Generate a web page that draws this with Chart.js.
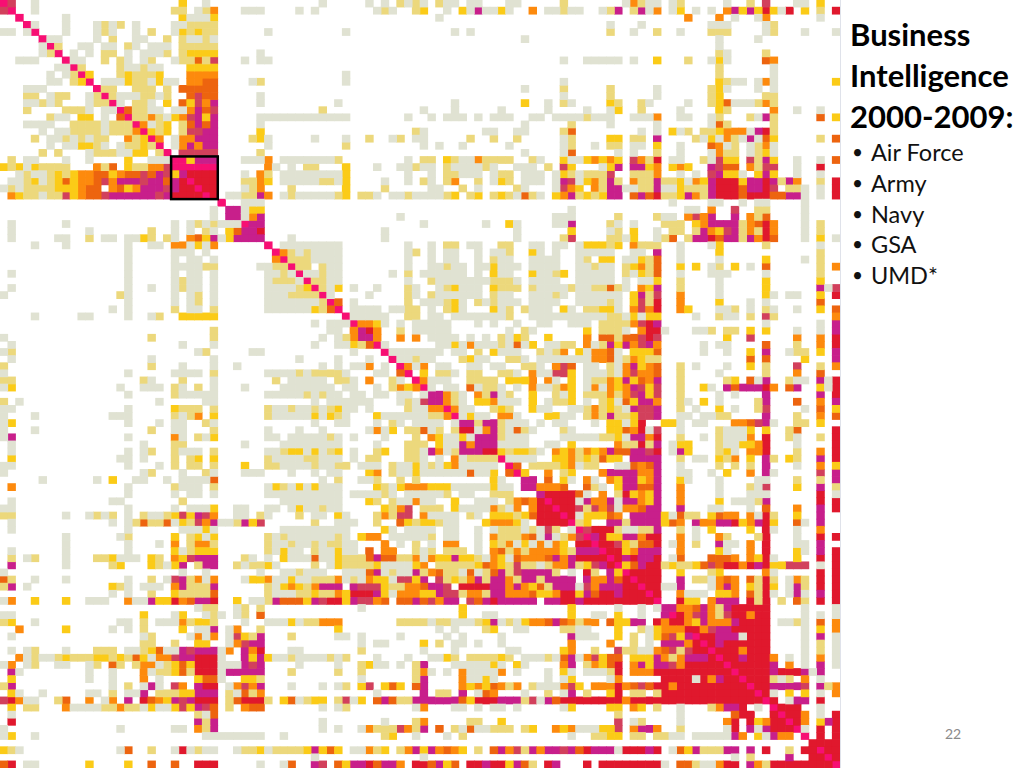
<!DOCTYPE html>
<html>
<head>
<meta charset="utf-8">
<title>Business Intelligence 2000-2009</title>
<script src="https://cdn.jsdelivr.net/npm/chart.js@4"></script>
<style>
  html, body { margin: 0; padding: 0; background: #fff; overflow: hidden; }
  #page { position: relative; width: 1024px; height: 768px; }
  #myChart { position: absolute; left: 0; top: 0; }
  #rule { position: absolute; left: 840px; top: 0; width: 1px; height: 768px; background: #dfe2ea; }
  #title { position: absolute; left: 850px; top: 14px; font: bold 31px/41px Lato, sans-serif; color: #000; white-space: nowrap; }
  #list { position: absolute; left: 850px; top: 137px; margin: 0; padding: 0; list-style: none; font: 23.5px/30.8px Lato, sans-serif; color: #111; }
  #list li { padding-left: 21px; position: relative; white-space: nowrap; }
  #list li::before { content: "\2022"; position: absolute; left: 2px; font-size: 19px; }
  #page-no { position: absolute; left: 945px; top: 725px; font: 14px Lato, sans-serif; color: #8a8a8a; }
</style>
</head>
<body>
<div id="page">
  <canvas id="myChart" width="840" height="768"></canvas>
  <div id="rule"></div>
  <div id="title">Business<br>Intelligence<br>2000-2009:</div>
  <ul id="list"><li>Air Force</li><li>Army</li><li>Navy</li><li>GSA</li><li>UMD*</li></ul>
  <div id="page-no">22</div>
</div>
<script>
// every row is "col" or "from-to" + level letter, col counted from the start of the block
const topLeft = [
"0h 1r 4g 23y 26g",
"0r 1h 4g 22-23p 25g 26p 27o 31-33g",
"2h 8g 23y 24-26g 27y",
"3h 4g 8g 12g 13p 14g 15p 17g 22-23g 24-27p",
"0-1g 3g 4h 8g 12g 13p 14g 17g 19p 22g 23y 24p 25y 26-27p 34g",
"5h 6-7g 12g 14p 17-18g 21p 23p 24-25g 26p 27g",
"5g 6h 7p 10-11g 13-14g 16p 17g 19-21g 23-27p",
"5g 6p 7h 9g 11g 13-14p 16g 18-20g 21p 23p 24-27y 33g",
"2-4g 8h 9-10g 13p 15p 16g 18g 19p 22g 23-24p 25d 26p 27r 31g 33-34g",
"7-8g 9h 10p 15p 16-17g 18p 19-20g 24-27y",
"6g 8g 9p 10h 11y 15p 16y 17-19p 20y 24-27o",
"6-7g 9p 10y 11h 13-15g 16y 17-18p 19g 20y 21-22g 24-25o 26-27d 32g 33p",
"3-5g 12h 13-14p 17-19p 21p 23d 24-27d",
"3-4p 6g 7-8p 11g 12p 13h 14p 15-17g 18-19p 20g 21p 24d 25r 26-27d 33g",
"3-4g 5p 6g 7p 11g 12-13p 14h 15g 17-18p 19g 21y 23d 24y 25r 26o 27m 33g",
"3p 8-10p 11g 13-14g 15h 16d 17-18p 19-20g 22-23g 24o 25m 26d 27r",
"6p 7-8g 10-11y 13g 15d 16h 17-18p 19o 20p 21g 22y 23o 24r 25m 26y 27m 33-35g",
"3-6g 9-12p 13g 14-16p 17h 18o 19g 20p 21y 23p 24d 25m 26d 27m 33g",
"5g 7-8g 9-12p 13g 14-16p 17o 18h 19y 20p 21y 23p 24-25r 26-27m 33y",
"4p 6-7g 8p 9g 10p 11g 12-13p 16o 17p 18y 19h 20o 22g 23-24o 25-27m 32p 33y 34g",
"6g 8-9g 10-11y 12p 13g 15g 16-17p 18y 19p 20h 22g 23o 24m 25o 26-27m 34g",
"5p 7p 11g 12-14p 15-16g 17-18y 20p 21h 23-27r 33p",
"1p 3-4g 8g 11g 16y 19-21g 22-23h 24y 25-27m 31-33g 34o",
"0y 1p 2y 3g 4y 5-8p 12o 13p 14d 16y 17-18p 19-20o 21r 22-27h 34o 35g",
"2g 3p 4-5g 6p 7y 8p 9y 10-11o 12-13d 14y 15o 16-17d 18r 19d 20m 21r 22y 23m 24-27c 31g 33o 34p",
"1-2g 3p 4y 5g 6p 7y 8d 9y 10-11o 12d 13r 14o 15-17m 18r 19-20m 21d 22m 23c 24h 25-27c 31-32p 33o 34y",
"0g 1p 2g 3-6p 7-9y 10o 11-12d 14o 15d 16y 17o 18-20m 21r 22m 23-24c 25h 26-27c 31g 32p 33o",
"1o 2y 3-4p 5g 6-7p 8r 9y 10o 11-12d 13r 14m 15-19m 20r 21m 22-25c 26h 27c 29-30g 31-32p 33m 34o",
"28h 31-33g",
"27g 29-30m 31g 32-33y",
"27g 29-30m 31g 32o 33m",
"1g 8g 22g 24g 25p 26g 27p 28-30g 31h 32-33m",
"1g 11g 19p 22g 24g 26p 27g 29y 30d 31-32m 33c",
"1g 7-8g 11p 13-14g 16-17g 18y 19p 21p 22g 24o 25d 26y 27m 28g 29y 30-33m",
"4g 8g 16g 19-20g 22-23o 24g 25y 26g 27o 34h",
"16g 22-24g 26g 35h"
];
const topMid = [
"5g 11g 13g 15p 16g 17p 18g 20p 21-22g 24-25g 29-30g",
"2g 4g 12g 13p 14g 17p 18y 21g 23y 24g 25m 26-27g 28y 29g 32o 34-35g",
"20g",
"",
"8g 22g 24g",
"31g",
"","","","",
"8g",
"8g",
"31g",
"",
"7g 22g 31y 34g",
"5p 18g 22g 28g 34g",
"0-8g 16g 19g 21-23g 25g 27-29g 32-33g 35g",
"31g",
"17p 18g 26-27g 30-31g",
"4g 8g 11p 14g 15p 17-18g 24p 27p 30p",
"8p 18g 20g 23g 29g",
"31g",
"0-6g 7p 16g 18-19p 21y 22p 23-24g 25o 26-29p 32p 33g",
"1g 3-4p 8y 12g 15-16g 17p 18-19g 21p 22-25g 26p 27g 30-32g 34p",
"0-7g 8y 16g 19g 21-22p 23-25g 27g 28-29p 31-33g 35g",
"0-4g 5-6p 7g 8y 13g 16g 18p 19g 21p 22o 25p 27g 28y 29p 31-33g 35g",
"1p 8y 13p 19-20g 23p 25g 30p 31g 35g",
"0g 1p 2-6g 7p 8y 10-11p 12g 14-15g 16p 17-20g 21p 22y 24p 25y 27p 28y 29p 30g 31d 32p 33g 35y",
"",
"",
"15g 35g",
"18g 26g 29y 30g 35g",
"13g 30g",
"1g 13g 30g",
"0-7g 16g 19g 21-22p 24-25g 28-29p 32-33g 35g",
"0o 1p 2g 3p 4-7g 16g 17p 19g 21-22g 25g 27-28g 29p 32y 33g 35g"
];
const topRight = [
"0p 8g 9o 10p 11-12g 14g 15p 21g 24p 26r 30-31g 33y",
"0p 1-2g 5g 6p 7m 9p 10m 11g 12o 14g 15y 17g 19g 21o 22m 23y 24m 25y 26c 27y 28g 29c 31y 33p 35c",
"16o 20o 22g 25g 26o 33g",
"6g 10g 19-21g 26g 27p",
"6p 9g 12p 15g 19-21p 26g 27p 31g 35g",
"20g 25g",
"20g",
"20p 21g 26p",
"0g 3-7g 9g 12y 16p 19g 20y 21g 26d 27o",
"20p 27g",
"20p 27g",
"0g 20y 21p 22-23g 25g 26o 27g 35y",
"0p 6p 12g 19p 20y 21g 25g 27g",
"0g 6p 12g 19p 20y 26-27p",
"0p 1g 6y 7p 10p 11g 16g 19p 20y 21d 22-24g 25p 26o 27p",
"3g 6g 7y 10p 15g 20y 21p 27o 30g 33g",
"0-2g 3p 4-6g 9-11g 12o 15-16g 19g 20p 24p 25g 26m 27p 33d 35y",
"1p 6g 12g 19g 20d 21p 27p",
"0p 1d 10g 12g 14y 15g 16p 18-19p 20y 21-23o 24g 25m 26c 27p",
"0g 1p 6-7y 9-10p 12m 17p 18g 19y 20g 21o 22p 23g 24m 25g 26d 27y 33p 35d",
"0g 1p 4g 6-7p 9-10g 12y 15g 19d 20o 21g 22p 24g 25p 26o 27g",
"0g 1d 7g 9g 12p 15g 19g 20o 21-22p 24g 25p 26y 27g",
"0y 1-2g 3y 4o 5y 6o 7y 9r 10o 11p 12c 14-15g 18p 19g 20r 21-22y 24r 25p 26m 27y 30g 33g 35d",
"0r 1y 5g 6y 7m 9-10m 11y 12o 14y 15o 16y 19m 20r 21-22d 24o 25p 26r 27r 30g 33c",
"0y 1p 2g 3-5p 6r 9-11p 12o 15g 17g 19r 20m 21-22y 23g 25y 26m 27y 30g 33g",
"0m 1r 2g 3y 4o 5p 6m 7p 9o 10-11p 12m 13-14p 15y 16g 17o 18y 19m 20-22c 23y 24-25m 26c 27m 28p 29m 30o 33p 35c",
"0r 1o 2y 4o 5p 6-7m 8-9g 10-11p 12m 13-14g 15y 16-18p 19m 20-22c 23d 24-25m 26c 27r 29-30p 31g 33g 35c",
"0o 1m 2p 3y 4p 5y 6-7m 9d 10m 11d 12c 13-14p 15y 16m 17o 18p 19m 20-22c 23d 24-26c 27-28d 29-30m 31g 33g 35c",
"14g 19-20g 23g 25-26g 31g",
"1g 16-17g 19o 22r 25-26p 31g",
"0-1g 7p 12p 13-14g 16o 17r 18o 19m 22m 24o 25p 26d 31g",
"0g 1m 6p 7g 9g 13-15p 17y 18o 19-22m 23p 24o 25d 26c 27o 31g 33p",
"1y 6g 7p 9y 12g 14-15p 17p 18m 19o 20y 21r 22m 23p 24o 25p 26c 27o 31g 33p",
"0p 1r 6-7p 8g 9y 12g 13p 14d 16p 17-18m 19c 20d 21-22m 23p 24m 25o 26c 27d 31g 33y 35g",
"0g 2g 3-5y 6p 7y 9o 10-12p 15g 19g 20y 26p 33g",
"2-6g 9-10g 12m 15g 20y 33p"
];
const midLeft = [
"16g 22g 24-25g 27g 35o",
"16g 22-25g 26-27p 33-34g 35p",
"1g 16g 22g 24-25g 27g 34-35g",
"16g 22g 23p 24-25g 27g 34g 35p",
"1g 16g 19g 22g 23p 24-25g 27g 34-35g",
"0g 15p 16g 22g 24g 25p 27g 34-35g",
"16g 22g 24g 25p 27g 34-35g",
"14g 16g 22p 24-25g 27p 34-35g",
"4g 10-11g 16g 19g 20p 23-27y",
"",
"27p",
"0g 19p 27p",
"1g 23g 27g",
"0g 1p 25g 26p 32-33g",
"1g 19g 27g",
"0p 19p 23g 27g 30g",
"0g 16g 22-25g 27p 34-35g",
"0-1p 18p 19g 23p 27g 35p",
"0g 1y 15g 18-20g 22p 23g 25p 27g 31g",
"16g 22p 23-26g 27g 34-35g",
"0p 2g 20g 26-27g",
"0-1g 16g 22y 23-25p 27p 34p 35g",
"0g 4g 14-15g 16g 22p 23g 24p 25o 27y 34p 35g",
"0g 1y 16g 20g 22-23g 26p 27g",
"0g 4g 19p 22-23g 27p 34g",
"0g 1m 16g 22o 23g 25p 26g 27y 34-35g",
"1g 18g 22-23p 31g",
"1g 16g 18g 19p 22p 23-25g 27p 34-35g",
"1y 15-16g 18g 22p 24p 25y 27y 34p 35g",
"0-1g 16g 20g 22p 24-25p 27p 31y 34-35p",
"0g 18g 19p 23g 26p 27g 31-33g",
"5g 12g 14y 17-18g 21g 23-26g 27d",
"1o 16g 22p 23-25g 27p 34g 35y",
"16g 22g 24-25g 27g 34-35g",
"1g 14-15g 23p",
"0-1g 16g 22g 24-26g 27y 30-31g 34-35g"
];
const midMid = [
"0h 1-3p 4-7g 16g 19g 21-22g 25g 27p 28-29g 32-35g",
"0p 1h 2-3p 5p 6-7g 16g 19-20g 21p 22-23g 25-26g 27y 28-30g 32-35g",
"0p 1g 2h 3-4g 5p 6-7g 14g 16p 18-20g 21-23g 25g 27y 28-29g 32y 33-34g 35p",
"0-1p 2g 3h 4-5p 6-7g 16g 19p 20-23g 24-26g 27p 28-29p 30g 32-33g 34-35g",
"0-1g 2p 3y 4h 5p 6g 7y 9g 12g 16p 17g 20g 21p 22y 23-25g 27y 28-30p 32p 33-35g",
"0g 1-4p 5h 6g 11g 16p 17g 19p 20-23g 24-25g 27p 28-29g 32-34g 35p",
"0-4g 5p 6h 7d 9g 16p 18g 19-20g 21p 22y 23g 25p 26g 27p 28-30g 32-35g",
"0-3g 4y 5p 6d 7h 9-12g 14-15g 16-17p 19g 21p 22y 23g 27y 28g 29p 31p 32-34g",
"8h 9-13g 16-17p 19-20g 22-23g 24-26g 27-28g 29p 32-35g",
"4g 6-7g 8g 9h 10-11o 12y 13g 15g 17-19g 20-21g 25g 27g 30g 33-34g",
"6-7g 9o 10m 11c 12o 15p 17-18g 19-21g 29g 31p 32g",
"5g 7g 8p 9o 10-11m 12o 15o 17o 19-21g 22g 24g 26g 28p 29g 30y 31p 34y",
"4g 7-8g 9y 10p 11d 12h 13g 20-21g 22y 23g 24o 25-27g 28p 29g 30d 31g 32y 34-35g",
"9g 13h 14g 15-18g 19-20g 22-23g 25p 27y 28-30g 33p 34g 35p",
"2g 7g 11g 14h 15-16g 17p 18-19g 23p 24y 25-26g 29-30p 31g 33-35g",
"5g 7g 9-10g 11o 13g 15h 16o 17g 18o 20-21g 24-25g 27-28g 31-32p 33g 35o",
"0-1g 2p 3g 4-7p 8g 12-13g 15d 16h 18y 20-21p 22g 24-25p 28-29p 30g 32o 33-34g 35r",
"1-3g 4-5g 7-8p 9g 11o 14p 15g 17h 18o 19-21g 24-27p 29-31y 32o 34o 35g",
"0-3g 4g 5-6g 8-9g 12g 14p 15o 16y 17o 18h 19g 21-22g 24d 25g 26-27p 28g 30g 32o 33-34g 35p",
"0-2g 3p 4g 5p 6-7g 9-10g 12-13g 15-16g 18g 19-20m 21o 22p 23g 25o 26p 27m 28g 29p 32y 35p",
"4g 6-7g 8-11g 15g 16p 17g 18r 19-20m 21o 22p 23g 25-26y 27o 28-30g 32y 34g 35p",
"0g 1p 2-3g 4p 5g 6p 7y 8-9g 11g 16p 17-18g 19-20o 21h 22o 23-24g 27p 28y 29p 32y 33-34g",
"0-3g 4y 5g 6y 7p 8g 12y 13-18g 19-20p 21o 22h 23g 24y 25-26g 28-29o 30g 34-35y",
"4g 7-8g 12g 14p 15g 17-20g 22g 23-24m 25p 26-27m 28p 29-31g 33g 35g",
"2g 5g 11g 12o 13g 14y 16-17p 18d 19g 20p 22p 23-24c 25g 26o 27m 28p 29g 30d 31p 32g",
"1-5g 6p 7g 9g 13g 17p 19o 20y 21-22g 23y 24g 25-27m 28p 29-31g",
"0-7g 12g 16-18p 20y 21-22g 23m 24o 25-27m 28g 29-31g 34-35g",
"0p 1-2y 3g 4y 5g 6p 7y 9g 12p 13y 16-17p 18g 19m 20o 21g 22p 23-25m 26-27c 28y 29p 30-31y 32p 33g 35o",
"0-2g 3-4p 5-7g 9g 11-12p 16-17p 18g 20g 22o 23g 24-26p 27p 28h 29-32g 35y",
"0-3g 4p 5-6g 7-8p 10-12g 14p 15-16g 17y 18g 19p 20g 21y 22o 23-27g 29h 30d 32-35p",
"1g 4g 6-7g 11y 12o 14p 15-16g 17y 18-23g 24d 25-26g 27y 29d 30h 31y 34o",
"5g 7p 10-11g 12p 15p 17p 27y 28g 31-32m 34d",
"0p 1g 2y 3g 4y 5-7g 12y 13p 14g 15y 16-18o 19-21y 22-26g 27y 28-29g 31-32m 33-35o",
"0-7g 9-12g 13p 14g 16-18g 19-20g 21p 23-24g 27p 28-29p 33m 34-35c",
"0-7g 11y 12p 14p 15-16g 17o 18-19g 22y 25-27g 29p 30o 31d 32o 33c 34h 35c",
"1g 2y 3-4g 5p 6-7g 13y 14p 15o 16r 18-20p 22y 23-26g 27o 28p 29g 30o 32o 33-34c 35h"
];
const midRight = [
"2g 3p 5-6y 8-9g 10y 11p 12d 15g 20g 26y 31g 33p",
"2-3g 4p 5-6g 8p 9y 10o 11p 12d 15y 17y 19g 20p 22y 24g 26d 33p 35o",
"0y 2-6g 8p 9g 10y 11p 12d 15g 19-21g 26g 33p",
"2-5g 6g 8g 10-11g 12y 15p 20g 26y 33y",
"0g 1p 2-3g 4-5p 6d 7p 8g 10o 11y 12m 15p 20g 26y 33m 34g 35r",
"0g 2-3g 4-7g 9y 10m 11p 12r 15o 20g 26y 27g 29-30g 33y 35c",
"2-4g 5g 6p 7g 9y 10r 11p 12c 15o 20y 24g 26g 33d",
"0y 1g 3-4p 5-6y 7g 9o 10r 11o 12c 15o 16y 20-21g 22p 24g 26p 27g 30g 33y 35d",
"0-4g 5g 6-7p 8g 9y 10g 11-12y 17g 20p 21-22g 24p 26r 27p 35o",
"1-3g 5-8p 9o 10r 11c 12m 26g 33g 35m",
"3y 5-7p 8g 10o 11c 12c 13g 17-18g 19p 21-22p 24y 26y 30g 33g 35m",
"3o 5-6d 7p 8-9d 10r 11c 12r 21y 24r 30o 33o 35c",
"0-1p 3o 4g 5p 6m 7y 8m 9o 10r 11m 12o 18g 20-21g 26d 30p 33o 35c",
"0o 2y 3g 4-5o 6d 7g 9-11y 12d 18g 21g 24y 26m 29g 30-31p 33y 35m",
"0-3g 4o 5o 6d 7g 8p 9o 10y 11-12p 24d 26d 31y 35m",
"0r 1d 3g 4g 6p 7g 8o 9m 10y 11o 12d 15p 17g 21g 24y 26p 30r 33p 35o",
"0r 1y 3-5g 6p 7g 8o 9r 10-11o 12d 15p 20g 26p 30o 33d",
"1y 3g 4-5p 6o 7y 8m 9y 10d 11o 12m 15p 21-22p 22y 24d 25g 26m 29p 30-31g 33m 34g 35c",
"0o 1y 3g 4o 5g 6o 7y 8o 9m 10r 11y 12r 15p 18y 19g 21m 22d 23-25m 26c 27o 29d 30m 33y 34g 35c",
"0g 1y 3-5p 6o 7p 8o 9r 10m 11y 12r 15p 20g 22g 26m 33m 35c",
"0p 1y 3g 5p 6y 7g 8d 9y 10-11m 12o 15p 16g 18y 20g 25p 26m 30d 33o 35m",
"1-2g 3p 4o 5p 6y 7p 8g 9m 10-11r 12m 15p 17g 20y 22g 25p 26r 31g 33d 35y",
"0-1g 3p 4o 5p 6m 7-8p 9y 10-11r 12m 15-16g 18-19g 20-21p 26m 30p 33o 35d",
"0g 4g 6-7y 8g 9y 10c 13-14y 15g 17-18g 22-23o 24d 25r 26m 27g 30-31p 33y",
"0p 1g 6-7y 8d 9o 10c 11g 12r 15g 20p 21-23g 24y 26y 29p 30d 35c",
"0-4g 5-6p 7y 8g 9-10m 11o 12c 15p 18g 20p 21-23g 24o 26c 29p 30g 33p 35c",
"1y 7o 8-9p 10c 11p 12m 14g 15-16y 20p 21-22g 23-24y 25o 26c 30g 35c",
"0y 1o 2p 3o 4y 5o 6m 7-8d 9-10m 11r 12c 14g 15m 16y 20p 21y 22g 24-25o 26c 30p 33o 35c",
"0y 1o 2p 3y 4p 5d 6-7y 9-12m 15p 17-18g 20y 21p 22o 24y 26m 27p 29y 30p 33m 35c",
"0y 1o 2g 3-4p 7-8g 9d 10o 11d 12m 15g 20p 22p 24p 26m 30g 33o 35y",
"0p 1y 5o 6-9m 10-11o 12m 15-16g 19g 21y 24o 26m 27g 33r 35m",
"0y 1g 3o 4g 6o 7y 8-9m 10y 11o 12m 15y 16g 20g 25-26g 30p 33p 35m",
"0d 3d 4p 5g 7y 8-9m 10-11d 12m 15o 20g 24p 25g 26r 30y 33m 35p",
"0-1c 2d 3g 5o 7p 8c 9y 10o 11y 12m 15o 20g 24-26g 33c 35g",
"0-1c 2g 3m 4o 5o 6m 7g 8-9m 10o 11y 12m 15o 20y 22-24g 25p 26m 33c 35c",
"0-1c 2r 3p 4r 5o 6r 7g 8-9o 10d 11-12m 15m 19-20g 24g 26d 30o 33m 35c"
];
const botLeft = [
"0-1p 8g 11g 12p 13g 14p 16g 18p 19-20g 21p 22y 23r 24y 25m 26r 27o 30-31g 33p 34g",
"1g 14g 16g 17p 18d 19-20p 21d 22g 23y 24p 25r 26o 27m 28-29g 30p 31m 32y 33r",
"1g 16g 23g 24-25g 26y 27g",
"8g 15g 16p 22y 24p 25y 26g 27y 34p 35g",
"8g 16g 20g 22o 24p 25-26o 27p 34p 35g",
"1g 8g 16g 22y 23g 24p 25-27y 34p 35g",
"1p 3g 4p 8g 12-13p 14y 15-17g 19y 20p 22o 23y 24r 25-27m 31p 32g 34g",
"1m 8g 14p 15y 19y 20p 21g 22y 23m 25p 26-27m 30p 31g 32-33p 34y 35g",
"0g 23g 26g 33g",
"0d 1p 4g 8g 16g 19p 21g 22r 23m 24p 25o 26g 27o 31g 32-33y 34o 35g",
"0p 1m 3g 14y 15p 16g 18-20g 22o 23m 24-26p 27m 34p 35g",
"14g 16g 19p 22y 23-26p 27d 34p 35g",
"0g 1o 4y 8y 11-13g 16o 17-18g 19m 20-21y 22c 23o 24d 25-26m 27c 30y 32-33g 34p 35m",
"25g 26-27p 30g 31p 33p",
"0-1g 18y 22g 23y 26g 27p 28g 30g 31p 33d",
"0p 1y 4g 15-16g 18p 20-22g 23o 24p 25-26y 27p 31g 34-35g",
"2o 8y 14g 16g 18p 23y 25-26g 27m 29g 30o 33p",
"1g 18g 19p 24g 25o 26g 27o 29g 30r 31y 32p 33m",
"18-19p 22p 25-26y 29g 30o 31r 32-33m",
"1g 3g 4p 8g 12-14p 16-17g 18p 19y 20d 21-22g 23m 24r 25-27m 28g 29o 31m 32o 33c",
"2o 3g 4p 5-6g 7p 8y 9-11p 12-13y 14p 15y 16p 17d 18y 19g 20-21o 22r 23-24m 25-27c 28g 31m 32y 33m 34y 35g",
"0g 1o 3g 4p 7-8g 11g 12p 14d 15p 17p 18-19o 20g 21p 22y 23d 24y 25-27c 28-30g 31m 32r 33m",
"1m 2g 11g 14g 18o 19g 20-21p 22y 23d 24p 25-27c 28g 29-33m",
"1y 11g 14g 18o 20g 25y 26-27d 28g 31-32y 33p",
"0p 1m 14g 16p 18g 19m 20g 22r 23o 25m 26-27c 29g 30o 31r 32o 33m",
"1y 2g 5g 11-12g 14p 16-17g 18m 20-22p 23-24y 25-27m 29p 30g 31d 32p 33o",
"0r 1c 2o 3-4g 7p 8d 11o 13g 14o 16m 18c 19d 20o 21y 22m 23r 24m 25-27c 29p 30d 31-33c 34p",
"1y 3-4p 8o 9-12g 13-14p 15o 16-17p 18g 19y 20-21g 22y 23r 24y 25m 26r 27d 29p 31o 32-33d",
"1g 25p 26g 27d",
"1c 25m 26p 27m",
"0g 15g 22-23g 25o 26p 27m",
"0g 1y 4g 26-33g",
"",
"0y 1p 2g 15g 16d 19p 22g 23c 24g 25p 26-27g 30g 31-32p 33y 34g 35p",
"",
"0d 1c 3-4g 11y 16y 19d 22d 25-27c 33g"
];
const botMid = [
"2p 4-5g 7y 8g 12p 13o 14p 15-16r 18o 19-22g 24p 25g 27-29y 30p 31y 32d 33-35c",
"4p 7-9g 12p 15d 16y 17p 18-19y 20p 21-22g 26y 27-29o 30y 31g 33-35c",
"0-8g 13y 14g 16-19g 21-22g 25g 27g 28p 29-30p 31g 32p 33g 34r 35p",
"0p 1-6g 7p 8g 10y 11-12o 14g 15-18g 19p 21-22g 25g 27o 28-30p 31o 32d 33g 34m 35g",
"0g 1p 2-3g 4p 5g 6-7p 8-9g 13o 15g 17p 19g 21-22o 25g 27y 28p 29o 30g 31y 32g 33o 34g 35o",
"0y 1-2g 4p 5-6g 7y 8-9g 11d 13-14o 17p 18g 19p 21-23p 25g 27o 28d 29p 30o 31p 32-35o",
"0y 1-3g 4d 5-6g 7y 8-10p 11d 12m 13-14d 15-16p 17o 18g 19o 20-21y 22m 23-24y 25p 26g 27o 28y 29g 30d 31-33o 34d 35m",
"4p 6g 7y 8-11p 12y 13-16g 17y 18o 20-24p 25y 26d 27o 28y 29p 30r 31-32p 33g 34p 35o",
"0-1g 2p 3-5g 8-10g 11d 12m 13g 14p 15-16g 17m 18p 19o 20d 21-22p 23g 24d 25g 26p 27d 28m 29p 30r 31-33m 34m 35p",
"0g 1y 2-3g 4-6p 7o 8g 9p 10g 11o 12-13y 14g 15-16r 17y 18m 20r 21p 22y 23p 24o 25m 26p 27-28m 29o 30p 31-32m 33p 34-35m",
"0y 1o 2y 3p 4o 5-7m 9m 10-12r 13y 14-15p 16-17o 18d 19-20m 21r 23-26c 27-28m 29o 30m 31o 32y 33d 34p 35m",
"0-1g 2-3p 4y 5-6p 7o 8y 9-11c 12m 13y 14g 15-17o 18-19y 20m 21-22r 23p 24-25o 26p 27-28m 29-31o 32d 33-34y 35o",
"0-2d 3y 4m 5r 6-7c 8y 9m 10-11r 12o 13d 15-16d 17m 18d 19r 20o 21-22m 24r 25d 26m 27c 28-32m 34-35m",
"10g 23y",
"23y 26-27g",
"0g 1y 2g 3-4p 5-7o 15-17p 18p 19g 20-21p 22-24g 25p 26y 27m 28g 29p 30g 31y 32-33o 34d 35m",
"7y 20g 22g 26p 27y 30-31g",
"1p 7-8g 10g 15g 21g 23g 28g",
"10g 12-13g 18y 20p 22-23g 25g 28g",
"1-2g 10p 18g 22g 29-30g",
"0g 1p 2-5g 6p 7g 8p 12g 16g 19-20g 21y 22p 24-27p 28y 29p 31-33g 34p 35g",
"2g 7g 10p 11y 12-13g 15g 17p 18m 22g 23-26g 27y 28g 30y 31g",
"1p 7p 10p 17p 18o 19g 21g 23o 24-26g 27g 28o 30g 34g",
"10g 17p 18m 23o 24-25g 26y 27g 34g",
"1g 5g 7g 8p 10y 11r 13y 14d 15y 17d 18m 23o 24y 25o 26y 27d 28o 29p 30o 32p 33-35g",
"12g 18m 20-21p 23m 25g 26d 27o 31g 34p",
"0y 1d 2g 3p 4-5y 7p 8r 9g 10y 12d 13m 14d 15-16p 17-22m 23d 24y 25-27c 28-30m 31p 32r 33g 34m 35d",
"5g 7g 8p 17g 18o 22-23g 25g 27-28g 30g",
"",
"5g 13g 17p 18o 24-25p 28y",
"5g 7g 10g 11o 12-14p 15r 16o 17p 18m 20d 22p 23g 24d 25-26g 27-29p 31p 32y 35o",
"0g 13p 14y 17g 21g 23p",
"",
"0-2p 3y 4m 5y 6d 7y 9-10g 11o 12p 13y 15p 16o 17m 18y 19m 20o 21d 22o 23y 25p 27d 28m 29o 30r 31p 32m 33o 34-35m",
"4g 18g",
"0g 1d 4m 5r 7d 8y 9-10m 11c 12d 13-14m 15o 17-18c 19d 20m 21y 22d 24-25c 26m 27-28c 29y 30m 31d 32p 34c 35m"
];
const botRight = [
"0h 1c 2g 3-5y 6d 7o 9-12m 13y 14g 15d 16-17p 19y 20d 21-22o 24o 25g 26c 27p 30y 33m",
"0c 1h 2p 3y 6-7m 8p 9-12m 13y 14d 15o 17m 18-19o 20-21m 22c 23y 24o 25m 26c 27y 30d 31g 33m",
"1g 2h 3r 4-6c 7p 8-9g 10-11p 12m 15p 17g 19y 24y 26c 27g 30g 33o",
"0p 1o 2r 3h 4m 5c 6-7y 8-9m 10o 11-12c 15o 17g 20o 21p 25p 26c 30g 33c 35c",
"0y 2-3c 4h 5-6c 7r 8y 9p 10-11d 12c 14g 15o 17p 20m 21-22g 24o 26c 30-31g 33m",
"0y 1p 2-4m 5h 6-7c 8y 9o 10-12m 15o 20y 21g 24o 26c 30y 31g 33m 35c",
"0o 1m 2-5c 6h 7c 8m 9c 10-11m 12c 14g 15d 19-21d 22o 24o 25y 26c 27g 30y 33c 35c",
"0o 1m 2p 3y 4r 5m 6c 7h 8y 9d 10m 11-12c 13p 14y 15-16p 17y 18d 19r 20d 21-22c 23o 24c 25m 26c 27-28y 29-31r 33g 35c",
"1g 3c 4p 6m 7y 8h 9-12c 15y 19p 20y 26o 27g 33c 35c",
"0-1m 3m 4-5o 6m 7d 8c 9h 10-12c 15m 17-18p 19g 20o 21d 22o 24d 25p 26c 27p 29g 30o 31p 33c 35c",
"0-1m 2g 3r 4o 5-7m 8-9c 10h 11-12c 13-14g 15m 19g 20o 21m 22o 24y 25p 26c 27y 29g 30m 31p 33c 35c",
"0-1c 2y 3m 4d 5-6c 7m 8-10c 11h 12c 15o 16-18g 20-21y 22o 24d 25p 26c 27g 29g 30m 31g 33m 35c",
"0-1c 2m 3-11c 12h 15c 16-17y 19o 20-22m 24c 25p 26c 28p 30d 31p 33c 35c",
"1y 7g 10g 12g 13-14m 15-16o 17d 18m 19o 20p 21m 22-26c 31g 35g",
"1y 4-5g 7y 10g 13m 14h 15c 16o 17r 18m 19o 20p 21r 22-23c 24o 25-26c 31g 33g 35g",
"0d 1o 2p 3-4o 6d 7-8y 9-10m 12c 13o 14-15c 16o 17y 18m 19-21o 22m 23-26c 28-29g 30p 31g 33d 35o",
"0-1p 2-3g 7y 10p 11g 12y 13-15o 16c 17c 18o 19r 20-21m 22-26c 31g 33y 35o",
"1m 2-4g 7y 9p 11g 12y 13d 14r 15y 16m 17h 18-19c 20-22m 23g 24-26c 31g 33m 35g",
"1o 6o 9p 11g 13-15m 16o 17c 18h 19c 20m 21-26c 31g 33p 35g",
"0y 1o 4p 7r 8-9p 10-11g 12o 13d 14r 15p 16r 17-18c 19h 20-22c 23o 24-26c 31g 33p 35g",
"0d 1m 2g 3o 4r 5y 6-7d 9-11y 12m 13o 14p 15o 16-18m 19c 20h 21-22c 23m 24-26c 27o 29g 31g 33o 35g",
"0o 1m 3p 4o 5y 6d 7c 9o 10m 11y 12-13m 14r 15o 16-20c 21h 22-26c 27m 29o 31g 33m 35g",
"0y 1g 3-5g 6p 7c 9-11o 12-16c 17-21c 22h 23-26c 27m 28-30c 31m 32g 33m",
"0g 1y 6g 7o 13-16c 17g 18c 19o 20m 21-22c 23h 24-26c 27p 28g 29p 31o 33g",
"0o 1r 2y 4-6o 7c 8o 9d 10r 11d 12-13c 14o 15-23c 24h 25-26c 27-30m 31r 33m 34p 35o",
"0g 1m 3p 6y 7c 9-10p 12p 13-24c 25h 26c 27g 29y 31y 33g 35o",
"0-7c 8o 9-25c 26h 27c 29g 30-31m 33c",
"0g 1y 6-7y 9o 10y 12p 15g 19p 20o 21-22m 23c 25g 27h 28-30c 33g",
"7p 15g 22d 23-24c 27c 28h 29-30c 31o 33g 35c",
"7r 9g 10p 15g 21o 22c 24c 25y 26o 27-28c 29h 30c 31o 33y 34m 35c",
"0y 1o 2-4g 5-6y 7r 9o 10-11m 12o 15p 21g 22c 24m 25g 26m 27-29c 30h 31g 33c 35c",
"1g 4-5p 6-7y 9-10p 12-13p 14-15g 17-21g 22m 23o 25y 26g 27m 28-29o 31h 33c 35c",
"32-35c",
"0r 1m 2d 3c 4-6m 7g 8-10c 11m 12c 14g 15d 16y 17m 18-20p 21-22m 24m 26c 29p 31-32c 33h 34-35c",
"22g 24p 29m 32-33c 34h 35c",
"3c 5-12c 13g 15-16d 17p 18-19g 20o 21-22c 24m 25o 26p 27-34c 35h"
];

// value of each level, low to high, and its colour
const levelKeys = ['g', 'p', 'y', 'o', 'd', 'r', 'm', 'c', 'h'];
const levelColors = ['#e0e2d2', '#ecd87c', '#fbcb17', '#fd8a0d', '#ed640f', '#d2405c', '#c81f8b', '#e0182d', '#f70f73'];

const blocks = [
  [topLeft, topMid, topRight],
  [midLeft, midMid, midRight],
  [botLeft, botMid, botRight]
];
const size = 108;
const blockSize = 36;
const labels = [];
for (let i = 0; i < size; i++) labels.push(String(i));

// read the blocks into one grid
const grid = {};
blocks.forEach(function (line, b) {
  line.forEach(function (block, c) {
    block.forEach(function (text, r) {
      text.split(' ').filter(Boolean).forEach(function (token) {
        const m = token.match(/^(\d+)(?:-(\d+))?([a-z])$/);
        const from = +m[1];
        const to = m[2] ? +m[2] : from;
        for (let col = from; col <= to; col++) {
          grid[(b * blockSize + r) + ':' + (c * blockSize + col)] = m[3];
        }
      });
    });
  });
});

const datasets = levelKeys.map(function (key, i) {
  const points = [];
  Object.keys(grid).forEach(function (cell) {
    if (grid[cell] !== key) return;
    const parts = cell.split(':');
    points.push({ x: parts[1], y: [+parts[0], +parts[0] + 1] });
  });
  return { label: key, data: points, backgroundColor: levelColors[i], borderWidth: 0 };
});

// black frame round the highlighted group
const boxCells = [22, 28];
const framePlugin = {
  id: 'frame',
  afterDatasetsDraw(chart) {
    const { ctx, scales } = chart;
    const half = (scales.x.getPixelForValue(1) - scales.x.getPixelForValue(0)) / 2;
    const left = scales.x.getPixelForValue(boxCells[0]) - half;
    const right = scales.x.getPixelForValue(boxCells[1]) - half;
    const top = scales.y.getPixelForValue(boxCells[0]);
    const bottom = scales.y.getPixelForValue(boxCells[1]);
    ctx.save();
    ctx.strokeStyle = '#000';
    ctx.lineWidth = 2.5;
    ctx.strokeRect(left, top, right - left, bottom - top);
    ctx.restore();
  }
};

const myChart = new Chart(document.getElementById('myChart'), {
  type: 'bar',
  data: { labels: labels, datasets: datasets },
  options: {
    responsive: false,
    animation: false,
    grouped: false,
    barPercentage: 1,
    categoryPercentage: 1,
    layout: { padding: 0 },
    plugins: { legend: { display: false }, tooltip: { enabled: false } },
    scales: {
      x: { type: 'category', display: false, offset: true },
      y: { type: 'linear', display: false, reverse: true, min: 0, max: size }
    }
  },
  plugins: [framePlugin]
});
</script>
</body>
</html>
